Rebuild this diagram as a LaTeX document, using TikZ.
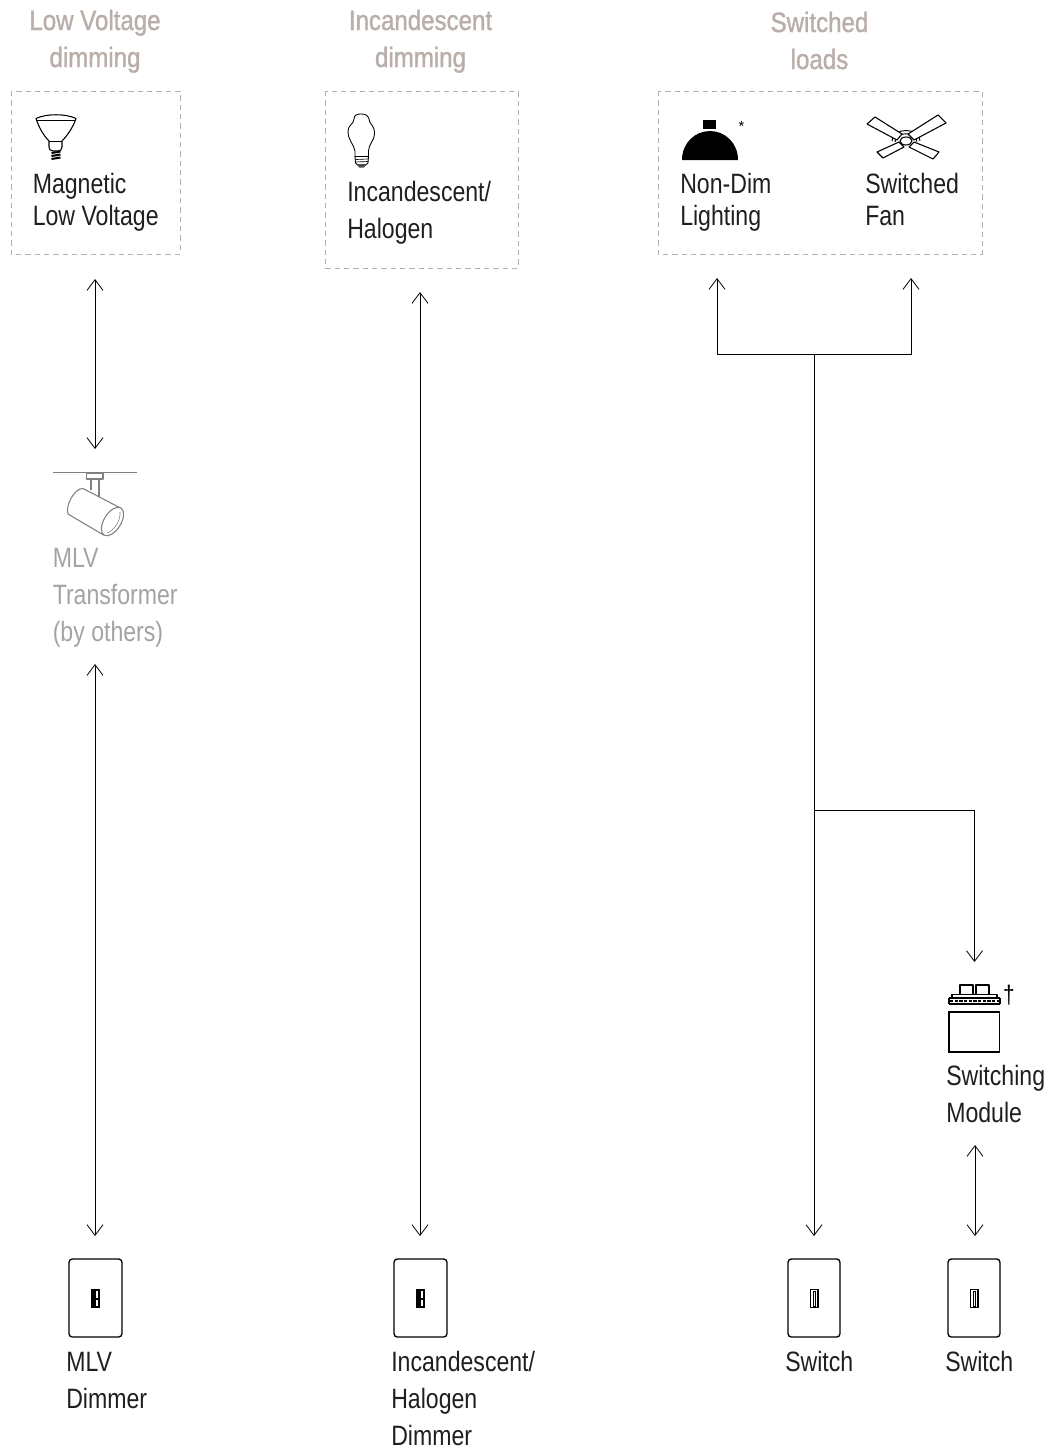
\documentclass[tikz,border=0pt]{standalone}
\usepackage{fontspec}
\setmainfont{Liberation Sans}
\newfontfamily\bodyfont[FakeStretch=0.825]{Liberation Sans}
\newfontfamily\headfont[FakeStretch=0.86,FakeBold=1.2]{Liberation Sans}
\usetikzlibrary{arrows.meta}
\definecolor{headc}{HTML}{B9AEA9}
\definecolor{dashc}{HTML}{B9AEA9}
\definecolor{grayc}{HTML}{A3A3A3}
\definecolor{iconc}{HTML}{808080}
\tikzset{
  lbl/.style={anchor=base west,inner sep=0pt,align=left,text=black!88,font=\bodyfont\fontsize{21}{24}\selectfont},
  lblwide/.style={lbl,font=\bodyfont\fontsize{21}{27.75}\selectfont},
  lblgray/.style={lblwide,text=grayc},
  head/.style={anchor=base,inner sep=0pt,align=center,text=headc,font=\headfont\fontsize{21}{27.75}\selectfont},
  zone/.style={draw=dashc,line width=0.7pt,dash pattern=on 4pt off 3pt},
  wire/.style={draw=black,line width=0.6pt},
  both/.style={wire,{Straight Barb[length=8pt,width=12pt,line width=0.6pt]}-{Straight Barb[length=8pt,width=12pt,line width=0.6pt]}},
  tip/.style={wire,-{Straight Barb[length=8pt,width=12pt,line width=0.6pt]}},
  plate/.style={draw=black,line width=1pt,rounded corners=2.5pt},
  ico/.style={draw=black,line width=0.8pt,line join=round},
  track/.style={draw=iconc,line width=0.8pt,line join=round}
}
\begin{document}
\begin{tikzpicture}[x=0.75pt,y=-0.75pt]
\path[use as bounding box] (0,0) rectangle (1046,1450);

% zones
\draw[zone] (11,91) rectangle (180,254);
\draw[zone] (325,91) rectangle (518,268);
\draw[zone] (658,91) rectangle (982,254);

% headers
\node[head] (h1) at (95,67) {Low Voltage\\dimming};
\node[head] (h2) at (420.5,67) {Incandescent\\dimming};
\node[head] (h3) at (819.5,69) {Switched\\loads};

% labels
\node[lbl] (magn) at (32.5,225) {Magnetic\\Low Voltage};
\node[lblwide] (inca) at (347,238.5) {Incandescent/\\Halogen};
\node[lbl] (nond) at (680,225) {Non-Dim\\Lighting};
\node[lbl] (sfan) at (865,225) {Switched\\Fan};
\node[lblgray] (mlvt) at (52.5,641.5) {MLV\\Transformer\\(by others)};
\node[lblwide] (smod) at (946,1122) {Switching\\Module};
\node[lblwide] (mlvd) at (66,1408) {MLV\\Dimmer};
\node[lblwide] (incd) at (391,1445.5) {Incandescent/\\Halogen\\Dimmer};
\node[lbl] (sw1) at (785,1371) {Switch};
\node[lbl] (sw2) at (945,1371) {Switch};
\node[anchor=base,inner sep=0pt,font=\fontsize{11}{12}\selectfont] (star) at (741.5,131) {*};
\node[anchor=base,inner sep=0pt,font=\bodyfont\fontsize{19}{20}\selectfont] (dag) at (1009,1003) {†};

% connector ends
\coordinate (a1) at (95,279); \coordinate (a2) at (95,449);
\coordinate (a3) at (95,664); \coordinate (a4) at (95,1236);
\coordinate (b1) at (420,292); \coordinate (b2) at (420,1236);
\coordinate (c1) at (717,278); \coordinate (c2) at (911,278);
\coordinate (c3) at (814,354.5); \coordinate (c4) at (814,1236);
\coordinate (c5) at (814,810); \coordinate (c6) at (974.5,962);
\coordinate (d1) at (975,1145); \coordinate (d2) at (975,1236);

\draw[both] (a1) -- (a2);
\draw[both] (a3) -- (a4);
\draw[both] (b1) -- (b2);
\draw[tip] (c3) -- (c4);
\draw[tip] (c3) -| (c1);
\draw[tip] (c3) -| (c2);
\draw[tip] (c5) -| (c6);
\draw[both] (d1) -- (d2);

% PAR lamp
\draw[ico] (36,118.5) .. controls (46,113.5) and (66,113.5) .. (76,118.5)
  .. controls (73,128) and (66,137) .. (62,141) -- (62,147)
  .. controls (62,150) and (60,151) .. (58,151) -- (53,151)
  .. controls (50,151) and (49,149) .. (49,147) -- (49,141)
  .. controls (44,136) and (39,128) .. (36,118.5) -- cycle;
\draw[draw=black,line width=0.5pt] (37,120.5) -- (75,120.5);
\draw[draw=black,line width=0.5pt] (49,141.5) -- (62,141.5);
\draw[draw=black,line width=1.5pt] (51.5,153) -- (60.5,151.5)
  (51.5,156) -- (60.5,154.5) (51.5,159) -- (60.5,157.5);

% Track head
\draw[track] (53,472.5) -- (137,472.5);
\draw[track] (86.5,473) rectangle (103,479);
\draw[track] (91,479) -- (91,490) (99,479) -- (99,497);
\draw[track,fill=white] (83,488.5) -- (121.5,508.5) -- (103.5,535) -- (68,514)
  .. controls (65,505) and (75,488) .. (83,488.5) -- cycle;
\draw[track,fill=white,rotate around={-32:(112.5,521.5)}] (112.5,521.5) ellipse (8.5 and 16);
\draw[draw=iconc,line width=0.4pt] (120,512) .. controls (121,520) and (114,531) .. (107,533);

% Bulb
\draw[ico,line width=0.65pt] (355,157) -- (355,151) .. controls (354,144) and (348,141) .. (348,131)
  .. controls (348,125) and (354,124) .. (354,119)
  .. controls (354,115) and (357,114) .. (361,114)
  .. controls (365,114) and (368,115) .. (369,119)
  .. controls (369,124) and (374.5,125) .. (374.5,133)
  .. controls (374.5,141) and (368.5,144) .. (368.5,151) -- (368.5,157);
\draw[ico,line width=0.65pt] (355,156.5) -- (368.5,156.5) -- (368,163) .. controls (366,167) and (357,167) .. (355.5,163) -- cycle;
\draw[draw=black,line width=0.5pt] (355.5,159.5) -- (368,159) (355.5,162) -- (368,161.5);
\fill[black!70] (357,164) -- (366.5,164) -- (364,167.5) -- (359,167.5) -- cycle;

% Dome
\fill[black] (703,120) rectangle (716,129);
\fill[black] (682,160) .. controls (682,143) and (695,131) .. (710,131)
  .. controls (725,131) and (738,143) .. (738,160) -- cycle;

% Fan
\draw[draw=black,line width=0.7pt] (892,141) .. controls (892,127) and (920,127) .. (920,141);
\draw[draw=black,line width=0.7pt] (895,142) .. controls (895,131) and (917,131) .. (917,142);
\draw[ico,fill=white] (867,124) -- (875,117) -- (902,134) -- (897,140) -- cycle;
\draw[ico,fill=white] (938,115) -- (946,123) -- (914,140) -- (908,134) -- cycle;
\draw[ico,fill=white] (877,152) -- (883,158) -- (904,147) -- (899,142) -- cycle;
\draw[ico,fill=white] (939,152) -- (933,159) -- (909,147) -- (914,142) -- cycle;
\draw[ico,fill=white] (906,141) ellipse (6 and 4);

% Switching module
\draw[draw=black,line width=0.8pt] (949,1012) rectangle (999.5,1052);
\draw[ico] (960,994) -- (960,985) -- (973,985) -- (973,994);
\draw[ico] (976,994) -- (976,985) -- (989,985) -- (989,994);
\draw[ico] (952,998) -- (952,994.5) -- (997,994.5) -- (997,998);
\draw[draw=black,line width=0.9pt] (949,998) -- (1000,998) (949,1004) -- (1000,1004) (949,998) -- (949,1004) (1000,998) -- (1000,1004);
\draw[draw=black,line width=2pt,dash pattern=on 2.5pt off 1pt] (950,1001) -- (1000,1001);

% Wall plates
\draw[plate] (69,1259) rectangle (122,1337);
\fill[black] (91,1289) rectangle (100,1308);
\fill[white] (95.5,1291) rectangle (98,1298);
\fill[white] (95.5,1299.5) rectangle (98,1306);
\draw[plate] (394,1259) rectangle (447,1337);
\fill[black] (416,1289) rectangle (425,1308);
\fill[white] (420.5,1291) rectangle (423,1298);
\fill[white] (420.5,1299.5) rectangle (423,1306);
\draw[plate] (788,1259) rectangle (840,1337);
\draw[draw=black,line width=1.2pt] (810.5,1289.5) rectangle (818,1307.5);
\draw[draw=black,line width=0.7pt] (813,1291) rectangle (815.5,1306);
\draw[plate] (948,1259) rectangle (1000,1337);
\draw[draw=black,line width=1.2pt] (970.5,1289.5) rectangle (978,1307.5);
\draw[draw=black,line width=0.7pt] (973,1291) rectangle (975.5,1306);
\end{tikzpicture}
\end{document}
